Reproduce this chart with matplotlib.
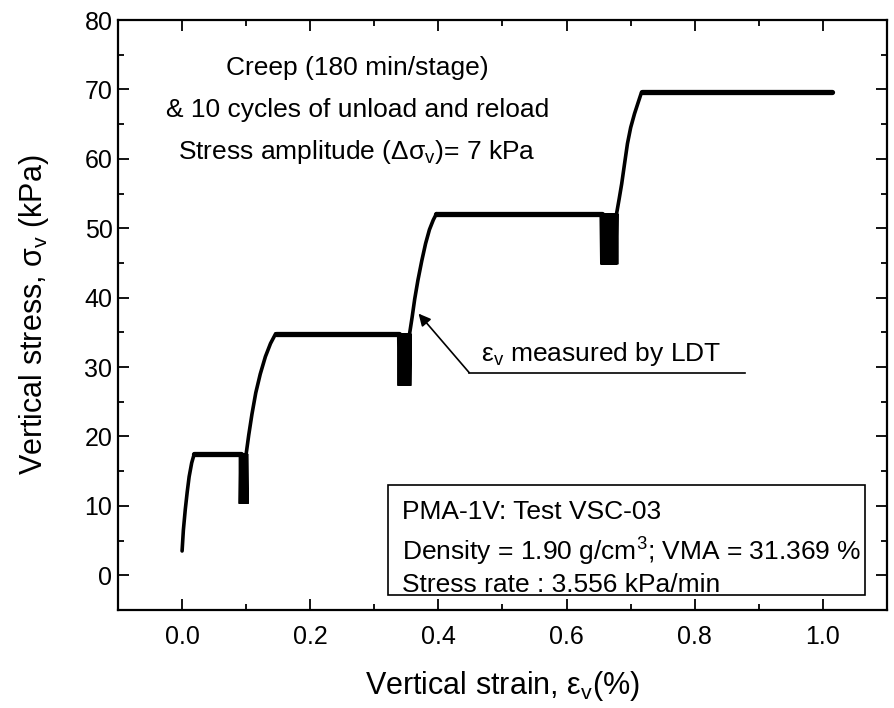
import matplotlib
matplotlib.use("Agg")
import matplotlib.pyplot as plt
from matplotlib.ticker import MultipleLocator, FormatStrFormatter
from matplotlib.patches import Rectangle

plt.rcParams['font.family'] = ['Liberation Sans', 'DejaVu Sans']

# ---- data ----
# loading segments (strain %, stress kPa)
load1_strain = [0.000, 0.002, 0.005, 0.008, 0.011, 0.015, 0.019]
load1_stress = [3.5, 6.5, 9.5, 12.0, 14.2, 16.2, 17.5]
load2_strain = [0.100, 0.104, 0.109, 0.115, 0.122, 0.130, 0.138, 0.146]
load2_stress = [17.5, 20.2, 23.2, 26.3, 29.0, 31.5, 33.4, 34.8]
load3_strain = [0.355, 0.359, 0.363, 0.368, 0.374, 0.380, 0.386, 0.392, 0.397]
load3_stress = [34.8, 37.2, 39.8, 42.5, 45.3, 47.8, 49.8, 51.2, 52.1]
load4_strain = [0.678, 0.682, 0.686, 0.690, 0.695, 0.700, 0.706, 0.712, 0.717]
load4_stress = [52.1, 54.2, 56.4, 59.0, 62.2, 64.5, 66.5, 68.2, 69.6]

# creep stages (start strain, end strain, stress)
creep_start = [0.019, 0.146, 0.397, 0.717]
creep_end = [0.092, 0.339, 0.655, 1.014]
creep_stress = [17.5, 34.8, 52.1, 69.6]

# unload-reload cycles (10 cycles per stage)
cyc1_strain = [0.092, 0.092, 0.093, 0.093, 0.094, 0.094, 0.095, 0.095, 0.096, 0.096, 0.097,
               0.097, 0.097, 0.098, 0.098, 0.098, 0.099, 0.099, 0.099, 0.100, 0.100]
cyc1_stress = [17.5, 10.3, 17.5, 10.3, 17.5, 10.3, 17.5, 10.3, 17.5, 10.3, 17.5,
               10.3, 17.5, 10.3, 17.5, 10.3, 17.5, 10.3, 17.5, 10.3, 17.5]
cyc2_strain = [0.339, 0.340, 0.341, 0.342, 0.343, 0.344, 0.345, 0.346, 0.347, 0.348, 0.349,
               0.349, 0.350, 0.351, 0.351, 0.352, 0.353, 0.353, 0.354, 0.354, 0.355]
cyc2_stress = [34.8, 27.3, 34.8, 27.3, 34.8, 27.3, 34.8, 27.3, 34.8, 27.3, 34.8,
               27.3, 34.8, 27.3, 34.8, 27.3, 34.8, 27.3, 34.8, 27.3, 34.8]
cyc3_strain = [0.655, 0.656, 0.657, 0.658, 0.659, 0.661, 0.662, 0.663, 0.664, 0.666, 0.667,
               0.668, 0.669, 0.671, 0.672, 0.673, 0.674, 0.675, 0.676, 0.677, 0.678]
cyc3_stress = [52.1, 44.8, 52.1, 44.8, 52.1, 44.8, 52.1, 44.8, 52.1, 44.8, 52.1,
               44.8, 52.1, 44.8, 52.1, 44.8, 52.1, 44.8, 52.1, 44.8, 52.1]

x_ticks = [0.0, 0.2, 0.4, 0.6, 0.8, 1.0]
y_ticks = [0, 10, 20, 30, 40, 50, 60, 70, 80]

# ---- figure ----
fig = plt.figure(figsize=(8.94, 7.08), dpi=100)
ax = fig.add_axes([118/894, 1-610/708, 769/894, 590/708])

lw_load = 2.6
lw_creep = 3.8
for xs, ys in [(load1_strain, load1_stress), (load2_strain, load2_stress),
               (load3_strain, load3_stress), (load4_strain, load4_stress)]:
    ax.plot(xs, ys, color='black', lw=lw_load, solid_capstyle='round', solid_joinstyle='round')
for x0, x1, s in zip(creep_start, creep_end, creep_stress):
    ax.plot([x0, x1], [s, s], color='black', lw=lw_creep, solid_capstyle='round')
for xs, ys in [(cyc1_strain, cyc1_stress), (cyc2_strain, cyc2_stress), (cyc3_strain, cyc3_stress)]:
    ax.plot(xs, ys, color='black', lw=3.5, solid_capstyle='butt', solid_joinstyle='miter')

ax.set_xlim(-0.1, 1.1)
ax.set_ylim(-5, 80)
ax.set_xticks(x_ticks)
ax.set_yticks(y_ticks)
ax.xaxis.set_major_formatter(FormatStrFormatter('%.1f'))
ax.xaxis.set_minor_locator(MultipleLocator(0.1))
ax.yaxis.set_minor_locator(MultipleLocator(5))
ax.tick_params(which='both', direction='in', top=True, right=True, width=1.3, labelsize=18)
ax.tick_params(axis='x', pad=11)
ax.tick_params(axis='y', pad=4)
ax.tick_params(which='major', length=8)
ax.tick_params(which='minor', length=4.5)
for sp in ax.spines.values():
    sp.set_linewidth(1.6)

ax.set_xlabel('Vertical strain, $\\mathregular{ε_v}$(%)', fontsize=22, labelpad=14)
ax.set_ylabel('Vertical stress, $\\mathregular{σ_v}$ (kPa)', fontsize=22, labelpad=24)

# top annotation text
fs_txt = 19
ax.text(0.311, 0.919, 'Creep (180 min/stage)', transform=ax.transAxes, ha='center', va='center', fontsize=fs_txt)
ax.text(0.311, 0.847, '& 10 cycles of unload and reload', transform=ax.transAxes, ha='center', va='center', fontsize=fs_txt)
ax.text(0.311, 0.776, 'Stress amplitude (Δσ$\\mathregular{_v}$)= 7 kPa', transform=ax.transAxes,
        ha='center', va='center', fontsize=fs_txt)

# LDT arrow annotation
ax.annotate('', xy=(0.369, 37.7), xytext=(0.448, 29.2),
            arrowprops=dict(arrowstyle='-|>', color='black', lw=1.2, mutation_scale=18, shrinkA=0, shrinkB=0))
ax.plot([0.448, 0.878], [29.2, 29.2], color='black', lw=1.2)
ax.text(0.467, 29.8, '$\\mathregular{ε_v}$ measured by LDT', ha='left', va='bottom', fontsize=fs_txt)

# info box
ax.add_patch(Rectangle((0.351, 0.025), 0.620, 0.187, transform=ax.transAxes,
                       fill=False, edgecolor='black', lw=1.2))
ax.text(0.369, 0.166, 'PMA-1V: Test VSC-03', transform=ax.transAxes, ha='left', va='center', fontsize=fs_txt)
ax.text(0.369, 0.098, 'Density = 1.90 g/cm$\\mathregular{^3}$; VMA = 31.369 %', transform=ax.transAxes,
        ha='left', va='center', fontsize=fs_txt)
ax.text(0.369, 0.042, 'Stress rate : 3.556 kPa/min', transform=ax.transAxes, ha='left', va='center', fontsize=fs_txt)

fig.savefig('out.png', dpi=100)
